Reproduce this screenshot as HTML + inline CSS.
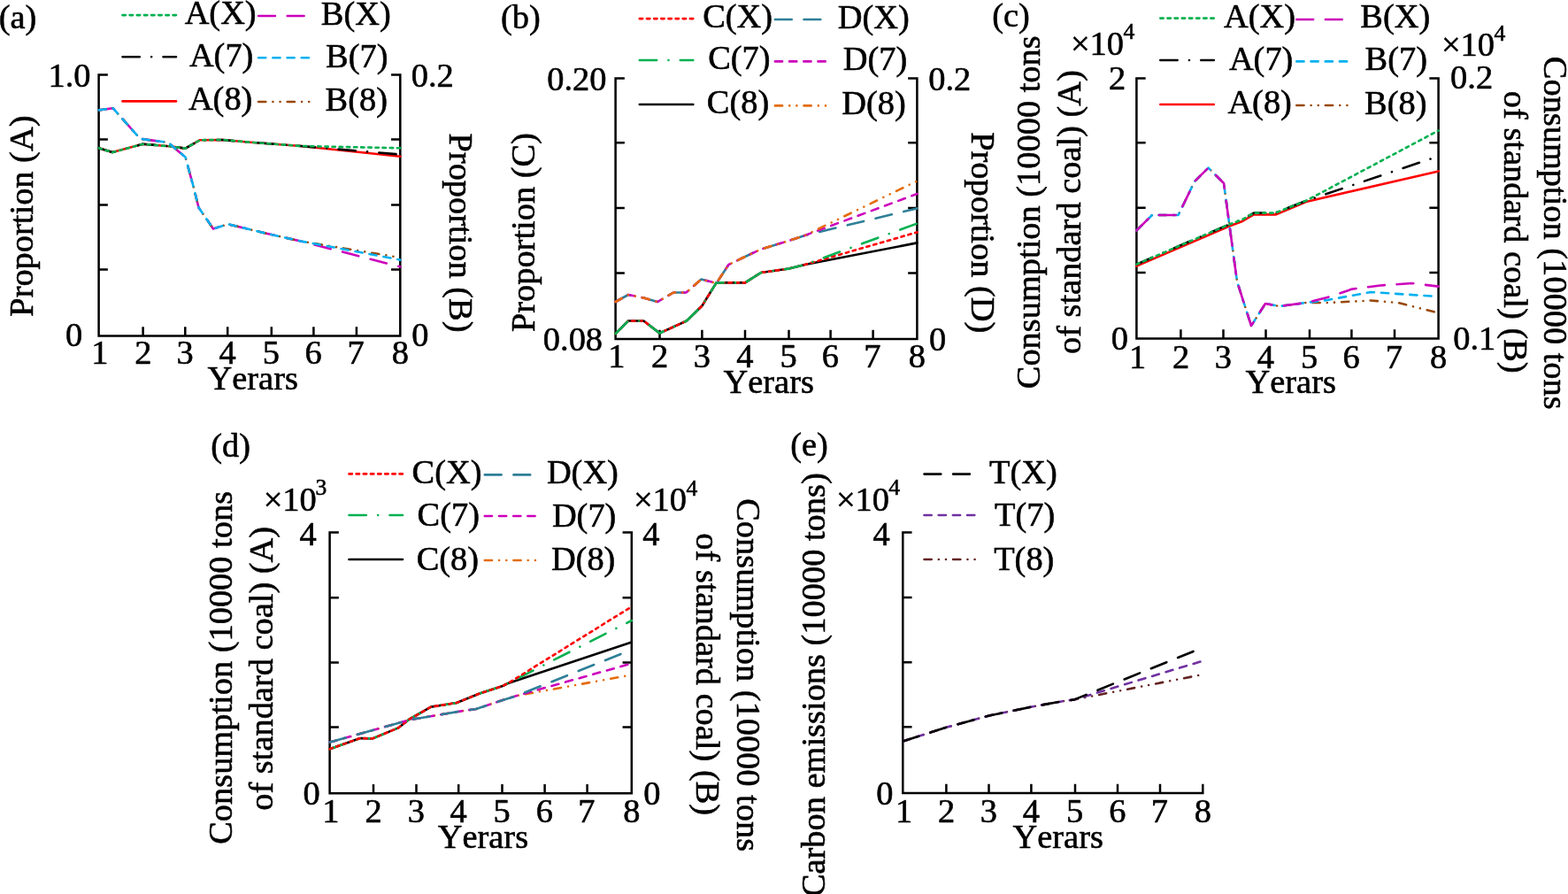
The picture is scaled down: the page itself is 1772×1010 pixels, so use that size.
<!DOCTYPE html>
<html><head><meta charset="utf-8"><title>Figure</title>
<style>
html,body{margin:0;padding:0;background:#fff;width:1772px;height:1010px;overflow:hidden}
svg{display:block}
text{font-family:"Liberation Serif",serif;font-size:38.4px;fill:#000;font-kerning:none;stroke:#000;stroke-width:0.6px;stroke-linejoin:round;font-feature-settings:"kern" 0;font-variant-ligatures:none}
</style></head><body>
<svg width="1772" height="1010" viewBox="0 0 1772 1010">
<rect width="1772" height="1010" fill="#fff"/>
<path d="M111.6,84.5 V379.4 H452.3 V84.5 M111.6,84.50 h9 M452.3,84.50 h-9 M111.6,157.40 h9 M452.3,157.40 h-9 M111.6,231.50 h9 M452.3,231.50 h-9 M111.6,304.60 h9 M452.3,304.60 h-9 M111.6,379.40 h9 M452.3,379.40 h-9 M161.60,379.4 v-9 M209.30,379.4 v-9 M257.20,379.4 v-9 M306.80,379.4 v-9 M354.40,379.4 v-9 M402.90,379.4 v-9" fill="none" stroke="#000" stroke-width="2.5" stroke-linecap="square"/>
<text x="103.27" y="411.40">1</text>
<text x="152.22" y="411.40">2</text>
<text x="199.53" y="411.40">3</text>
<text x="247.52" y="411.40">4</text>
<text x="296.83" y="411.40">5</text>
<text x="344.55" y="411.40">6</text>
<text x="392.59" y="411.40">7</text>
<text x="442.70" y="411.40">8</text>
<text x="-1.39" y="32.20">(a)</text>
<text x="54.46" y="97.70">1.0</text>
<text x="74.06" y="391.38">0</text>
<text x="464.84" y="97.70">0.2</text>
<text x="465.24" y="390.98">0</text>
<text x="234.57" y="440.00">Yerars</text>
<text transform="translate(37.20,357.71) rotate(-90)">Proportion (A)</text>
<text transform="translate(508.30,150.49) rotate(90)">Proportion (B)</text>
<polyline points="138.5,17.1 199.0,17.1" fill="none" stroke="#00b050" stroke-width="2.6" stroke-dasharray="3.4 4.75" stroke-linecap="round" stroke-linejoin="round"/>
<text x="208.64" y="27.20">A(X)</text>
<polyline points="138.5,64.3 199.0,64.3" fill="none" stroke="#000000" stroke-width="2.6" stroke-dasharray="19.3 13.35 0.01 13.35" stroke-linecap="round" stroke-linejoin="round"/>
<text x="213.90" y="75.00">A(7)</text>
<polyline points="138.5,114.4 199.0,114.4" fill="none" stroke="#ff0000" stroke-width="2.6" stroke-linecap="round" stroke-linejoin="round"/>
<text x="212.90" y="124.40">A(8)</text>
<polyline points="292.1,18.0 352.6,18.0" fill="none" stroke="#cc00bb" stroke-width="2.6" stroke-dasharray="18.8 13.8" stroke-linecap="round" stroke-linejoin="round"/>
<text x="362.83" y="27.60">B(X)</text>
<polyline points="292.1,65.2 352.6,65.2" fill="none" stroke="#00b0f0" stroke-width="2.6" stroke-dasharray="8.2 8.0" stroke-linecap="round" stroke-linejoin="round"/>
<text x="368.10" y="75.60">B(7)</text>
<polyline points="292.1,115.0 352.6,115.0" fill="none" stroke="#984807" stroke-width="2.6" stroke-dasharray="8.2 8.13 0.01 8.13 0.01 8.13" stroke-linecap="round" stroke-linejoin="round"/>
<text x="367.60" y="125.00">B(8)</text>
<polyline points="111.6,167.2 127.0,172.1 161.5,162.8 191.5,165.3 209.5,167.6 226.0,158.2 251.5,158.0 280.0,160.5 340.0,165.0 452.3,176.8" fill="none" stroke="#ff0000" stroke-width="2.6" stroke-linecap="round" stroke-linejoin="round"/>
<polyline points="111.6,167.2 127.0,172.1 161.5,162.8 191.5,165.3 209.5,167.6 226.0,158.2 251.5,158.0 280.0,160.5 340.0,165.0 452.3,174.5" fill="none" stroke="#000000" stroke-width="2.6" stroke-dasharray="19.3 13.35 0.01 13.35" stroke-linecap="round" stroke-linejoin="round"/>
<polyline points="111.6,167.2 127.0,172.1 161.5,162.8 191.5,165.3 209.5,167.6 226.0,158.2 251.5,158.0 280.0,160.5 340.0,165.0 452.3,167.3" fill="none" stroke="#00b050" stroke-width="2.6" stroke-dasharray="3.4 4.75" stroke-linecap="round" stroke-linejoin="round"/>
<polyline points="111.6,124.4 127.6,122.2 158.5,156.8 190.0,161.0 209.5,177.5 218.5,210.5 224.5,234.5 241.0,258.5 257.5,253.2 300.0,263.5 340.0,272.5 452.3,301.4" fill="none" stroke="#cc00bb" stroke-width="2.6" stroke-dasharray="18.8 13.8" stroke-linecap="round" stroke-linejoin="round"/>
<polyline points="111.6,124.4 127.6,122.2 158.5,156.8 190.0,161.0 209.5,177.5 218.5,210.5 224.5,234.5 241.0,258.5 257.5,253.2 300.0,263.5 340.0,272.5 452.3,291.0" fill="none" stroke="#984807" stroke-width="2.6" stroke-dasharray="8.2 8.13 0.01 8.13 0.01 8.13" stroke-linecap="round" stroke-linejoin="round"/>
<polyline points="111.6,124.4 127.6,122.2 158.5,156.8 190.0,161.0 209.5,177.5 218.5,210.5 224.5,234.5 241.0,258.5 257.5,253.2 300.0,263.5 340.0,272.5 452.3,293.6" fill="none" stroke="#00b0f0" stroke-width="2.6" stroke-dasharray="8.2 8.0" stroke-linecap="round" stroke-linejoin="round"/>
<path d="M695.6,88.4 V383.0 H1036.4 V88.4 M695.6,88.40 h9 M1036.4,88.40 h-9 M695.6,161.20 h9 M1036.4,161.20 h-9 M695.6,235.10 h9 M1036.4,235.10 h-9 M695.6,308.40 h9 M1036.4,308.40 h-9 M695.6,383.00 h9 M1036.4,383.00 h-9 M745.50,383.0 v-9 M793.40,383.0 v-9 M842.00,383.0 v-9 M891.50,383.0 v-9 M938.60,383.0 v-9 M986.60,383.0 v-9" fill="none" stroke="#000" stroke-width="2.5" stroke-linecap="square"/>
<text x="687.27" y="415.10">1</text>
<text x="736.12" y="415.10">2</text>
<text x="783.63" y="415.10">3</text>
<text x="832.33" y="415.10">4</text>
<text x="881.53" y="415.10">5</text>
<text x="928.75" y="415.10">6</text>
<text x="976.29" y="415.10">7</text>
<text x="1026.80" y="415.10">8</text>
<text x="565.91" y="32.00">(b)</text>
<text x="618.26" y="101.70">0.20</text>
<text x="613.86" y="395.50">0.08</text>
<text x="1049.24" y="102.20">0.2</text>
<text x="1050.04" y="395.58">0</text>
<text x="817.57" y="444.00">Yerars</text>
<text transform="translate(604.00,375.11) rotate(-90)">Proportion (C)</text>
<text transform="translate(1098.20,149.19) rotate(90)">Proportion (D)</text>
<polyline points="722.8,21.1 783.3,21.1" fill="none" stroke="#ff0000" stroke-width="2.6" stroke-dasharray="3.4 4.75" stroke-linecap="round" stroke-linejoin="round"/>
<text x="794.20" y="31.00">C(X)</text>
<polyline points="722.8,68.0 783.3,68.0" fill="none" stroke="#00b050" stroke-width="2.6" stroke-dasharray="19.3 13.35 0.01 13.35" stroke-linecap="round" stroke-linejoin="round"/>
<text x="800.16" y="78.00">C(7)</text>
<polyline points="722.8,118.0 783.3,118.0" fill="none" stroke="#000000" stroke-width="2.6" stroke-linecap="round" stroke-linejoin="round"/>
<text x="798.86" y="128.00">C(8)</text>
<polyline points="875.9,22.0 936.4,22.0" fill="none" stroke="#2e7f98" stroke-width="2.6" stroke-dasharray="18.8 13.8" stroke-linecap="round" stroke-linejoin="round"/>
<text x="946.77" y="31.50">D(X)</text>
<polyline points="875.9,69.4 936.4,69.4" fill="none" stroke="#cc00bb" stroke-width="2.6" stroke-dasharray="8.2 8.0" stroke-linecap="round" stroke-linejoin="round"/>
<text x="952.84" y="78.50">D(7)</text>
<polyline points="875.9,119.4 936.4,119.4" fill="none" stroke="#e46c0a" stroke-width="2.6" stroke-dasharray="8.2 8.13 0.01 8.13 0.01 8.13" stroke-linecap="round" stroke-linejoin="round"/>
<text x="951.24" y="128.50">D(8)</text>
<polyline points="695.6,377.0 710.0,362.5 727.4,362.5 745.4,376.4 776.0,362.5 793.4,345.5 809.6,319.4 842.0,319.4 860.0,308.0 891.5,303.5 909.5,299.0 1036.4,274.4" fill="none" stroke="#000000" stroke-width="2.6" stroke-linecap="round" stroke-linejoin="round"/>
<polyline points="695.6,377.0 710.0,362.5 727.4,362.5 745.4,376.4 776.0,362.5 793.4,345.5 809.6,319.4 842.0,319.4 860.0,308.0 891.5,303.5 909.5,299.0 1036.4,262.4" fill="none" stroke="#ff0000" stroke-width="2.6" stroke-dasharray="3.4 4.75" stroke-linecap="round" stroke-linejoin="round"/>
<polyline points="695.6,377.0 710.0,362.5 727.4,362.5 745.4,376.4 776.0,362.5 793.4,345.5 809.6,319.4 842.0,319.4 860.0,308.0 891.5,303.5 909.5,299.0 1036.4,252.5" fill="none" stroke="#00b050" stroke-width="2.6" stroke-dasharray="19.3 13.35 0.01 13.35" stroke-linecap="round" stroke-linejoin="round"/>
<polyline points="695.6,341.0 710.0,333.0 727.4,336.5 743.0,341.0 761.0,330.5 775.4,330.5 792.5,315.5 809.6,320.0 823.4,299.0 842.0,290.0 860.0,281.5 891.5,272.0 909.5,266.0 1036.4,235.4" fill="none" stroke="#2e7f98" stroke-width="2.6" stroke-dasharray="18.8 13.8" stroke-linecap="round" stroke-linejoin="round"/>
<polyline points="695.6,341.0 710.0,333.0 727.4,336.5 743.0,341.0 761.0,330.5 775.4,330.5 792.5,315.5 809.6,320.0 823.4,299.0 842.0,290.0 860.0,281.5 891.5,272.0 909.5,266.0 1036.4,219.0" fill="none" stroke="#cc00bb" stroke-width="2.6" stroke-dasharray="8.2 8.0" stroke-linecap="round" stroke-linejoin="round"/>
<polyline points="695.6,341.0 710.0,333.0 727.4,336.5 743.0,341.0 761.0,330.5 775.4,330.5 792.5,315.5 809.6,320.0 823.4,299.0 842.0,290.0 860.0,281.5 891.5,272.0 909.5,266.0 1036.4,204.5" fill="none" stroke="#e46c0a" stroke-width="2.6" stroke-dasharray="8.2 8.13 0.01 8.13 0.01 8.13" stroke-linecap="round" stroke-linejoin="round"/>
<path d="M1284.4,88.5 V382.4 H1625.6 V88.5 M1284.4,88.50 h9 M1625.6,88.50 h-9 M1284.4,161.20 h9 M1625.6,161.20 h-9 M1284.4,234.80 h9 M1625.6,234.80 h-9 M1284.4,308.10 h9 M1625.6,308.10 h-9 M1284.4,382.40 h9 M1625.6,382.40 h-9 M1334.40,382.4 v-9 M1382.50,382.4 v-9 M1430.50,382.4 v-9 M1480.00,382.4 v-9 M1527.40,382.4 v-9 M1576.00,382.4 v-9" fill="none" stroke="#000" stroke-width="2.5" stroke-linecap="square"/>
<text x="1276.07" y="415.50">1</text>
<text x="1325.02" y="415.50">2</text>
<text x="1372.73" y="415.50">3</text>
<text x="1420.83" y="415.50">4</text>
<text x="1470.03" y="415.50">5</text>
<text x="1517.55" y="415.50">6</text>
<text x="1565.69" y="415.50">7</text>
<text x="1616.00" y="415.50">8</text>
<text x="1121.31" y="30.00">(c)</text>
<text x="1209.96" y="61.80">×10</text>
<text x="1269.50" y="44.48" style="font-size:25.5px">4</text>
<text x="1252.92" y="101.11">2</text>
<text x="1255.66" y="395.08">0</text>
<text x="1628.96" y="63.00">×10</text>
<text x="1688.50" y="45.68" style="font-size:25.5px">4</text>
<text x="1639.12" y="100.30">0.2</text>
<text x="1642.31" y="395.00">0.1</text>
<text x="1407.57" y="444.00">Yerars</text>
<text transform="translate(1175.00,439.18) rotate(-90)">Consumption (10000 tons</text>
<text transform="translate(1220.80,400.06) rotate(-90)">of standard coal) (A)</text>
<text transform="translate(1745.00,63.83) rotate(90)">Consumption (10000 tons</text>
<text transform="translate(1699.60,102.84) rotate(90)">of standard coal) (B)</text>
<polyline points="1311.3,20.6 1371.8,20.6" fill="none" stroke="#00b050" stroke-width="2.6" stroke-dasharray="3.4 4.75" stroke-linecap="round" stroke-linejoin="round"/>
<text x="1382.94" y="30.60">A(X)</text>
<polyline points="1311.3,68.0 1371.8,68.0" fill="none" stroke="#000000" stroke-width="2.6" stroke-dasharray="19.3 13.35 0.01 13.35" stroke-linecap="round" stroke-linejoin="round"/>
<text x="1388.90" y="79.00">A(7)</text>
<polyline points="1311.3,118.0 1371.8,118.0" fill="none" stroke="#ff0000" stroke-width="2.6" stroke-linecap="round" stroke-linejoin="round"/>
<text x="1387.40" y="128.40">A(8)</text>
<polyline points="1465.3,22.0 1525.8,22.0" fill="none" stroke="#cc00bb" stroke-width="2.6" stroke-dasharray="18.8 13.8" stroke-linecap="round" stroke-linejoin="round"/>
<text x="1537.33" y="31.00">B(X)</text>
<polyline points="1465.3,69.4 1525.8,69.4" fill="none" stroke="#00b0f0" stroke-width="2.6" stroke-dasharray="8.2 8.0" stroke-linecap="round" stroke-linejoin="round"/>
<text x="1542.60" y="79.00">B(7)</text>
<polyline points="1465.3,119.0 1525.8,119.0" fill="none" stroke="#984807" stroke-width="2.6" stroke-dasharray="8.2 8.13 0.01 8.13 0.01 8.13" stroke-linecap="round" stroke-linejoin="round"/>
<text x="1542.10" y="129.00">B(8)</text>
<polyline points="1284.4,300.6 1388.0,256.0 1404.0,250.0 1417.0,242.4 1442.0,242.4 1476.0,228.0 1625.6,193.4" fill="none" stroke="#ff0000" stroke-width="2.6" stroke-linecap="round" stroke-linejoin="round"/>
<polyline points="1284.4,298.6 1388.0,254.0 1404.0,248.0 1417.0,240.6 1441.0,240.6 1476.0,226.8 1625.6,176.5" fill="none" stroke="#000000" stroke-width="2.6" stroke-dasharray="19.3 13.35 0.01 13.35" stroke-linecap="round" stroke-linejoin="round"/>
<polyline points="1284.4,298.6 1388.0,254.0 1404.0,248.0 1417.0,240.6 1441.0,240.6 1476.0,226.8 1625.6,147.5" fill="none" stroke="#00b050" stroke-width="2.6" stroke-dasharray="3.4 4.75" stroke-linecap="round" stroke-linejoin="round"/>
<polyline points="1284.4,260.4 1302.0,243.0 1331.6,243.0 1350.0,205.0 1365.6,189.6 1383.0,207.0 1398.0,318.0 1414.0,368.0 1430.0,343.0 1446.0,346.0 1476.0,342.0 1500.0,342.0 1549.0,339.5 1580.0,342.0 1625.6,353.6" fill="none" stroke="#984807" stroke-width="2.6" stroke-dasharray="8.2 8.13 0.01 8.13 0.01 8.13" stroke-linecap="round" stroke-linejoin="round"/>
<polyline points="1284.4,260.4 1302.0,243.0 1331.6,243.0 1350.0,205.0 1365.6,189.6 1383.0,207.0 1398.0,318.0 1414.0,368.0 1430.0,343.0 1446.0,346.0 1476.0,342.0 1500.0,339.0 1549.0,330.0 1625.6,335.0" fill="none" stroke="#00b0f0" stroke-width="2.6" stroke-dasharray="8.2 8.0" stroke-linecap="round" stroke-linejoin="round"/>
<polyline points="1284.4,260.4 1302.0,243.0 1331.6,243.0 1350.0,205.0 1365.6,189.6 1383.0,207.0 1398.0,318.0 1414.0,368.0 1430.0,343.0 1446.0,346.0 1476.0,342.0 1500.0,336.0 1528.0,326.6 1560.0,322.5 1595.5,320.0 1625.6,323.6" fill="none" stroke="#cc00bb" stroke-width="2.6" stroke-dasharray="18.8 13.8" stroke-linecap="round" stroke-linejoin="round"/>
<path d="M372.6,601.5 V896.3 H713.8 V601.5 M372.6,601.50 h9 M713.8,601.50 h-9 M372.6,675.20 h9 M713.8,675.20 h-9 M372.6,748.40 h9 M713.8,748.40 h-9 M372.6,821.40 h9 M713.8,821.40 h-9 M372.6,896.30 h9 M713.8,896.30 h-9 M422.00,896.3 v-9 M470.50,896.3 v-9 M518.20,896.3 v-9 M567.50,896.3 v-9 M615.60,896.3 v-9 M663.60,896.3 v-9" fill="none" stroke="#000" stroke-width="2.5" stroke-linecap="square"/>
<text x="364.27" y="929.00">1</text>
<text x="412.62" y="929.00">2</text>
<text x="460.73" y="929.00">3</text>
<text x="508.53" y="929.00">4</text>
<text x="557.53" y="929.00">5</text>
<text x="605.75" y="929.00">6</text>
<text x="653.29" y="929.00">7</text>
<text x="704.20" y="929.00">8</text>
<text x="238.31" y="516.00">(d)</text>
<text x="297.66" y="576.50">×10</text>
<text x="356.48" y="558.78" style="font-size:25.5px">3</text>
<text x="338.40" y="615.64">4</text>
<text x="342.46" y="909.18">0</text>
<text x="715.96" y="577.40">×10</text>
<text x="775.50" y="559.78" style="font-size:25.5px">4</text>
<text x="726.25" y="615.64">4</text>
<text x="727.14" y="909.18">0</text>
<text x="494.77" y="958.00">Yerars</text>
<text transform="translate(261.70,953.78) rotate(-90)">Consumption (10000 tons</text>
<text transform="translate(308.10,915.76) rotate(-90)">of standard coal) (A)</text>
<text transform="translate(832.70,563.22) rotate(90)">Consumption (10000 tons</text>
<text transform="translate(786.60,602.34) rotate(90)">of standard coal) (B)</text>
<polyline points="394.5,535.4 455.0,535.4" fill="none" stroke="#ff0000" stroke-width="2.6" stroke-dasharray="3.4 4.75" stroke-linecap="round" stroke-linejoin="round"/>
<text x="465.60" y="546.00">C(X)</text>
<polyline points="394.5,582.0 455.0,582.0" fill="none" stroke="#00b050" stroke-width="2.6" stroke-dasharray="19.3 13.35 0.01 13.35" stroke-linecap="round" stroke-linejoin="round"/>
<text x="471.56" y="594.00">C(7)</text>
<polyline points="394.5,632.0 455.0,632.0" fill="none" stroke="#000000" stroke-width="2.6" stroke-linecap="round" stroke-linejoin="round"/>
<text x="470.66" y="643.60">C(8)</text>
<polyline points="547.8,536.4 608.3,536.4" fill="none" stroke="#2e7f98" stroke-width="2.6" stroke-dasharray="18.8 13.8" stroke-linecap="round" stroke-linejoin="round"/>
<text x="617.89" y="546.00">D(X)</text>
<polyline points="547.8,583.0 608.3,583.0" fill="none" stroke="#cc00bb" stroke-width="2.6" stroke-dasharray="8.2 8.0" stroke-linecap="round" stroke-linejoin="round"/>
<text x="623.89" y="594.50">D(7)</text>
<polyline points="547.8,633.0 608.3,633.0" fill="none" stroke="#e46c0a" stroke-width="2.6" stroke-dasharray="8.2 8.13 0.01 8.13 0.01 8.13" stroke-linecap="round" stroke-linejoin="round"/>
<text x="622.89" y="644.00">D(8)</text>
<polyline points="372.6,846.2 407.0,834.0 421.0,834.4 450.0,822.4 462.0,813.0 487.0,798.6 516.0,794.0 542.0,783.5 568.0,775.0 574.0,772.0 713.8,725.6" fill="none" stroke="#000000" stroke-width="2.6" stroke-linecap="round" stroke-linejoin="round"/>
<polyline points="372.6,846.2 407.0,834.0 421.0,834.4 450.0,822.4 462.0,813.0 487.0,798.6 516.0,794.0 542.0,783.5 568.0,775.0 574.0,772.0 713.8,701.0" fill="none" stroke="#00b050" stroke-width="2.6" stroke-dasharray="19.3 13.35 0.01 13.35" stroke-linecap="round" stroke-linejoin="round"/>
<polyline points="372.6,846.2 407.0,834.0 421.0,834.4 450.0,822.4 462.0,813.0 487.0,798.6 516.0,794.0 542.0,783.5 568.0,775.0 574.0,772.0 713.8,685.4" fill="none" stroke="#ff0000" stroke-width="2.6" stroke-dasharray="3.4 4.75" stroke-linecap="round" stroke-linejoin="round"/>
<polyline points="372.6,838.6 464.0,813.0 488.0,809.0 520.0,803.6 538.0,801.0 568.0,791.0 584.0,786.0 713.8,762.5" fill="none" stroke="#e46c0a" stroke-width="2.6" stroke-dasharray="8.2 8.13 0.01 8.13 0.01 8.13" stroke-linecap="round" stroke-linejoin="round"/>
<polyline points="372.6,838.6 464.0,813.0 488.0,809.0 520.0,803.6 538.0,801.0 568.0,791.0 584.0,786.0 713.8,749.6" fill="none" stroke="#cc00bb" stroke-width="2.6" stroke-dasharray="8.2 8.0" stroke-linecap="round" stroke-linejoin="round"/>
<polyline points="372.6,838.6 464.0,813.0 488.0,809.0 520.0,803.6 538.0,801.0 568.0,791.0 584.0,786.0 713.8,734.0" fill="none" stroke="#2e7f98" stroke-width="2.6" stroke-dasharray="18.8 13.8" stroke-linecap="round" stroke-linejoin="round"/>
<path d="M1020.3,601.5 V896.0 H1359.3 M1020.3,601.50 h9 M1020.3,675.00 h9 M1020.3,748.20 h9 M1020.3,821.20 h9 M1020.3,896.00 h9 M1069.40,896.0 v-9 M1117.50,896.0 v-9 M1165.40,896.0 v-9 M1215.00,896.0 v-9 M1263.00,896.0 v-9 M1311.00,896.0 v-9 M1359.30,896.0 v-9" fill="none" stroke="#000" stroke-width="2.5" stroke-linecap="square"/>
<text x="1011.97" y="929.00">1</text>
<text x="1060.02" y="929.00">2</text>
<text x="1107.73" y="929.00">3</text>
<text x="1155.73" y="929.00">4</text>
<text x="1205.03" y="929.00">5</text>
<text x="1253.15" y="929.00">6</text>
<text x="1300.69" y="929.00">7</text>
<text x="1349.70" y="929.00">8</text>
<text x="893.31" y="515.00">(e)</text>
<text x="944.96" y="577.00">×10</text>
<text x="1004.30" y="558.98" style="font-size:25.5px">4</text>
<text x="986.40" y="615.64">4</text>
<text x="990.26" y="908.58">0</text>
<text x="1144.57" y="958.00">Yerars</text>
<text transform="translate(932.40,1013.08) rotate(-90)">Carbon emissions (10000 tons)</text>
<polyline points="1044.5,535.6 1105.0,535.6" fill="none" stroke="#000000" stroke-width="2.6" stroke-dasharray="18.8 13.8" stroke-linecap="round" stroke-linejoin="round"/>
<text x="1118.12" y="546.40">T(X)</text>
<polyline points="1044.5,582.0 1105.0,582.0" fill="none" stroke="#7030a0" stroke-width="2.6" stroke-dasharray="8.2 8.0" stroke-linecap="round" stroke-linejoin="round"/>
<text x="1124.08" y="594.00">T(7)</text>
<polyline points="1044.5,632.0 1105.0,632.0" fill="none" stroke="#632523" stroke-width="2.6" stroke-dasharray="8.2 8.13 0.01 8.13 0.01 8.13" stroke-linecap="round" stroke-linejoin="round"/>
<text x="1123.18" y="643.60">T(8)</text>
<polyline points="1020.3,837.5 1070.0,821.6 1118.0,808.4 1166.0,798.5 1202.0,792.0 1214.0,790.4 1359.5,762.0" fill="none" stroke="#632523" stroke-width="2.6" stroke-dasharray="8.2 8.13 0.01 8.13 0.01 8.13" stroke-linecap="round" stroke-linejoin="round"/>
<polyline points="1020.3,837.5 1070.0,821.6 1118.0,808.4 1166.0,798.5 1202.0,792.0 1214.0,790.4 1359.5,746.6" fill="none" stroke="#7030a0" stroke-width="2.6" stroke-dasharray="8.2 8.0" stroke-linecap="round" stroke-linejoin="round"/>
<polyline points="1020.3,837.5 1070.0,821.6 1118.0,808.4 1166.0,798.5 1202.0,792.0 1214.0,790.4 1359.5,731.5" fill="none" stroke="#000000" stroke-width="2.6" stroke-dasharray="18.8 13.8" stroke-linecap="round" stroke-linejoin="round"/>
</svg>
</body></html>
